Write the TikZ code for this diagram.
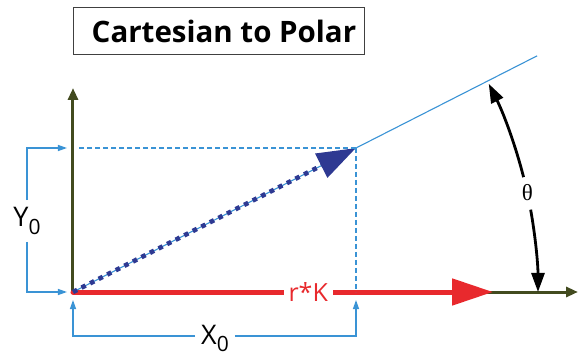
\documentclass[tikz,border=0pt]{standalone}
\usepackage{fontspec}
\setmainfont{Open Sans}
\newfontfamily\greekfont{Liberation Serif}
\usetikzlibrary{arrows.meta,calc}
\definecolor{axisgreen}{HTML}{424B1F}
\definecolor{guideblue}{HTML}{3A93D5}
\definecolor{vecblue}{HTML}{2E3992}
\definecolor{rkred}{HTML}{E8292D}
\begin{document}
\begin{tikzpicture}[x=1pt,y=1pt,
	axis/.style={draw=axisgreen,line width=3pt,-{Triangle[length=12pt,width=10pt]}},
	guide/.style={draw=guideblue,line width=1.6pt,dash pattern=on 5pt off 3pt},
	bracket/.style={draw=guideblue,line width=1.3pt,-{Triangle[length=9pt,width=6pt]}},
	thetaarc/.style={draw=black,line width=2.8pt,-{Triangle[length=19pt,width=13pt]}},
	lbl/.style={inner sep=0pt,font=\fontsize{27}{27}\selectfont}]
	\useasboundingbox (-73,-64) rectangle (505,292);

	% titre
	\node[draw=black!75,line width=1pt,minimum width=291pt,minimum height=47pt,anchor=west,
		font=\bfseries\fontsize{29.5}{30}\selectfont] (title) at (0,260.5) {\hspace{10pt}Cartesian to Polar};

	% points
	\coordinate (O) at (0,0);
	\coordinate (P) at (283,144);
	\coordinate (yTop) at (0,204);
	\coordinate (xEnd) at (505,0);
	\coordinate (rTip) at (420,0);
	\coordinate (far) at ($(O)!1.64!(P)$);

	% axes
	\draw[axis] (O) -- (yTop);
	\draw[axis] (O) -- (xEnd);

	% r*K
	\draw[draw=rkred,line width=5pt,line cap=round,-{Triangle[length=41pt,width=26pt]}] (O) -- (rTip)
		node[pos=0.56,fill=white,text=rkred,inner xsep=5pt,inner ysep=2pt,font=\fontsize{25}{25}\selectfont] (rk) {r*K};

	% vecteur
	\draw[draw=guideblue,line width=1.1pt] (O) -- (far);
	\draw[draw=vecblue,line width=4.6pt,dash pattern=on 4.6pt off 5pt,-{Triangle[length=39pt,width=26pt]}] (O) -- (P);

	% projections
	\draw[guide,shorten >=5pt] (P) -- (P -| O);
	\draw[guide] (P) -- (P |- O);

	%%% Y0
	\node[lbl,inner ysep=7pt] (y0) at (-46,71) {Y\raisebox{-8pt}{\fontsize{21}{21}\selectfont 0}};
	\coordinate (yA) at (-6,144);
	\coordinate (yB) at (-6,0);
	\draw[bracket] (y0) |- (yA);
	\draw[bracket] (y0) |- (yB);

	%%% X0
	\node[lbl,inner xsep=6pt] (x0) at (142,-46) {X\raisebox{-7pt}{\fontsize{21}{21}\selectfont 0}};
	\coordinate (xA) at (0,-8);
	\coordinate (xB) at (283,-8);
	\coordinate (xC) at (0,-44);
	\draw[bracket] (x0.west |- xC) -| (xA);
	\draw[bracket] (x0.east |- xC) -| (xB);

	%%% theta
	\node[inner sep=0pt,font=\greekfont\fontsize{23}{23}\selectfont] (theta) at (12.3:465) {θ};
	\coordinate (thA) at (14.3:465);
	\coordinate (thB) at (10.2:465);
	\draw[thetaarc] (thA) arc[start angle=14.3,end angle=26.6,radius=465];
	\draw[thetaarc] (thB) arc[start angle=10.2,end angle=0,radius=465];
\end{tikzpicture}
\end{document}
